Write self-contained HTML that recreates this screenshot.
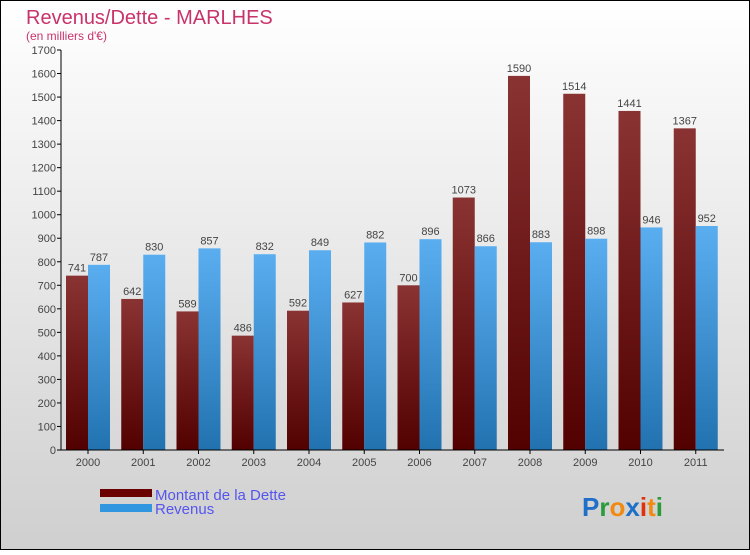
<!DOCTYPE html>
<html><head><meta charset="utf-8"><style>
html,body{margin:0;padding:0}
body{width:750px;height:550px;overflow:hidden;font-family:"Liberation Sans",sans-serif}
</style></head><body>
<svg id="c" width="750" height="550" xmlns="http://www.w3.org/2000/svg">
<defs>
<linearGradient id="bg" x1="0" y1="0" x2="0" y2="1"><stop offset="0" stop-color="#ffffff"/><stop offset="1" stop-color="#cfcfcf"/></linearGradient>
<linearGradient id="gd" x1="0" y1="0" x2="0" y2="1"><stop offset="0" stop-color="#8a3333"/><stop offset="1" stop-color="#520000"/></linearGradient>
<linearGradient id="gr" x1="0" y1="0" x2="0" y2="1"><stop offset="0" stop-color="#5aaef0"/><stop offset="1" stop-color="#2272b0"/></linearGradient>
</defs>
<rect x="0.5" y="0.5" width="749" height="549" fill="url(#bg)" stroke="#000"/>
<text x="26" y="24" font-size="20" fill="#c8336a">Revenus/Dette - MARLHES</text>
<text x="26" y="40" font-size="12" fill="#c8336a">(en milliers d'€)</text>
<g id="grid"></g>
<g id="bars"></g>
<g id="axes"></g>
<rect x="100" y="489" width="52" height="8" fill="#6a0000"/>
<text x="155" y="500" font-size="15" fill="#5555ee">Montant de la Dette</text>
<rect x="100" y="504" width="52" height="8" fill="#3096e0"/>
<text x="155" y="514" font-size="15" fill="#5555ee">Revenus</text>
<text x="582" y="516" font-size="26" font-weight="bold"><tspan fill="#1e6fc8">P</tspan><tspan fill="#2a9a3a">r</tspan><tspan fill="#f08a10">o</tspan><tspan fill="#1e6fc8">x</tspan><tspan fill="#e03010">i</tspan><tspan fill="#f08a10">t</tspan><tspan fill="#2a9a3a">i</tspan></text>
</svg>
<script>
const years=["2000","2001","2002","2003","2004","2005","2006","2007","2008","2009","2010","2011"];
const dette=[741,642,589,486,592,627,700,1073,1590,1514,1441,1367];
const revenus=[787,830,857,832,849,882,896,866,883,898,946,952];
const yTicks=[0,100,200,300,400,500,600,700,800,900,1000,1100,1200,1300,1400,1500,1600,1700];
const NS="http://www.w3.org/2000/svg";
const x0=61,x1=724,yB=450,yT=50,yMax=1700;
const gw=(x1-x0)/years.length;
const y=v=>yB-(v/yMax)*(yB-yT);
function mk(t,a,p){const e=document.createElementNS(NS,t);for(const k in a)e.setAttribute(k,a[k]);p.appendChild(e);return e;}
const ax=document.getElementById('axes'),bars=document.getElementById('bars');
yTicks.forEach(v=>{
  const l=mk('line',{x1:x0-4,x2:x0,y1:y(v),y2:y(v),stroke:'#000'},ax);
  
  
  const t=mk('text',{x:x0-5,y:y(v)+4,'font-size':11,fill:'#444','text-anchor':'end'},ax);
  t.textContent=v;
  
  
});
years.forEach((yr,i)=>{
  const gx=x0+i*gw;
  const bw=22;
  const r1=mk('rect',{x:gx+5,y:y(dette[i]),width:bw,height:yB-y(dette[i]),fill:'url(#gd)'},bars);
  
  
  const r2=mk('rect',{x:gx+5+bw,y:y(revenus[i]),width:bw,height:yB-y(revenus[i]),fill:'url(#gr)'},bars);
  
  
  const t1=mk('text',{x:gx+5+bw/2,y:y(dette[i])-4,'font-size':11,fill:'#444','text-anchor':'middle'},bars);
  t1.textContent=dette[i];
  
  
  const t2=mk('text',{x:gx+5+bw*1.5,y:y(revenus[i])-4,'font-size':11,fill:'#444','text-anchor':'middle'},bars);
  t2.textContent=revenus[i];
  
  
  const cx=gx+5+bw;
  const tk=mk('line',{x1:cx,x2:cx,y1:yB,y2:yB+4,stroke:'#000'},ax);
  
  
  const xl=mk('text',{x:cx,y:yB+16,'font-size':11,fill:'#444','text-anchor':'middle'},ax);
  xl.textContent=yr;
  
  
});
const ya=mk('line',{x1:x0,x2:x0,y1:yT,y2:yB,stroke:'#000'},ax);


const xa=mk('line',{x1:x0,x2:x1,y1:yB,y2:yB,stroke:'#000'},ax);


</script>
</body></html>
